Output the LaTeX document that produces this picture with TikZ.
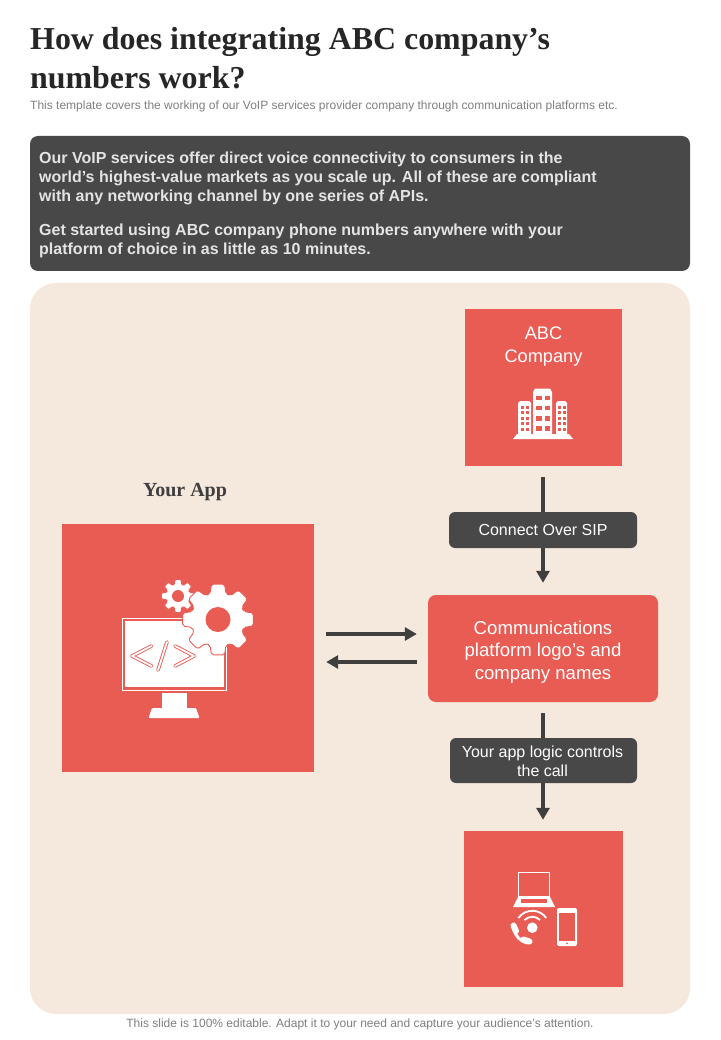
\documentclass[tikz,border=0pt]{standalone}
\usepackage{fontspec}
\setmainfont{Liberation Sans}
\newfontfamily\serifbf[BoldFont={Liberation Serif Bold}]{Liberation Serif}
\usetikzlibrary{arrows.meta}
\definecolor{redbox}{HTML}{E95C54}
\definecolor{panelc}{HTML}{F5E8DD}
\definecolor{darkc}{HTML}{484848}
\definecolor{arrowc}{HTML}{3F3F3F}
\definecolor{titlec}{HTML}{262626}
\definecolor{subc}{HTML}{7F7F7F}
\definecolor{bodyc}{HTML}{E4E4E4}
\tikzset{
  redsq/.style={fill=redbox,inner sep=0pt,draw=none},
  redrnd/.style={fill=redbox,inner sep=0pt,rounded corners=8pt,draw=none},
  pill/.style={fill=darkc,inner sep=0pt,rounded corners=6pt,text=white,align=center,font=\fontsize{16}{19}\selectfont},
  conn/.style={draw=arrowc,line width=3.3pt},
  connarrow/.style={conn,-{Triangle[length=12pt,width=13pt]}},
  wlabel/.style={text=white,align=center,inner sep=0pt},
  ic/.style={fill=white,draw=none},
  icl/.style={draw=white,fill=none},
}
\begin{document}
\begin{tikzpicture}[x=1pt,y=-1pt]
\useasboundingbox[fill=white] (0,0) rectangle (720,1040);

% title block
\node[anchor=base west,inner sep=0pt,text=titlec,align=left,font=\fontsize{31.9}{39}\selectfont\serifbf\bfseries] (title) at (30,89)
  {How does integrating ABC company’s\\numbers work?};
\node[anchor=base west,inner sep=0pt,text=subc,font=\fontsize{12}{14}\selectfont] (subtitle) at (30,110)
  {This template covers the working of our VoIP services provider company through communication platforms etc.};

% dark intro
\path[fill=darkc,rounded corners=8pt] (30,136) rectangle (690,271);
\node[anchor=base west,inner sep=0pt,text=bodyc,align=left,font=\fontsize{16}{19.2}\selectfont\bfseries] (introa) at (39,201.5)
  {Our VoIP services offer direct voice connectivity to consumers in the\\
   world's highest-value markets as you scale up. All of these are compliant\\
   with any networking channel by one series of APIs.};
\node[anchor=base west,inner sep=0pt,text=bodyc,align=left,font=\fontsize{16}{19.2}\selectfont\bfseries] (introb) at (39,254.5)
  {Get started using ABC company phone numbers anywhere with your\\
   platform of choice in as little as 10 minutes.};

% panel
\path[fill=panelc,rounded corners=26pt] (30,283) rectangle (690,1014);

% boxes
\node[redsq,minimum width=157pt,minimum height=157pt] (abc) at (543.5,387.5) {};
\node[wlabel,font=\fontsize{18.2}{23}\selectfont] (abclabel) at (543.5,346.5) {ABC\\Company};
\node[redsq,minimum width=252pt,minimum height=248pt] (app) at (188,648) {};
\node[anchor=base,inner sep=0pt,text=arrowc,font=\fontsize{20}{24}\selectfont\serifbf\bfseries] (applabel) at (185,496) {Your App};
\node[pill,minimum width=188pt,minimum height=36pt] (sip) at (543,530) {\raisebox{-1pt}{Connect Over SIP}};
\node[redrnd,minimum width=230pt,minimum height=107pt] (comm) at (543,648.5) {};
\node[wlabel,font=\fontsize{18.6}{22.7}\selectfont] (commlabel) at (543,652)
  {Communications\\platform logo’s and\\company names};
\node[pill,minimum width=187pt,minimum height=45pt] (logic) at (543.5,760.5) {};
\node[wlabel,font=\fontsize{16}{19}\selectfont] (logiclabel) at (542.5,761) {Your app logic controls\\the call};
\node[redsq,minimum width=159pt,minimum height=156pt] (dev) at (543.5,909) {};

% connectors
\draw[conn,shorten <=11pt] (abc.south -| sip.north) -- (sip.north);
\draw[connarrow,shorten >=12pt] (sip.south) -- (sip.south |- comm.north);
\draw[conn,shorten <=11pt] (comm.south) -- (comm.south |- logic.north);
\draw[connarrow,shorten >=11pt] (logic.south -| comm.south) -- (comm.south |- dev.north);
\draw[connarrow,shorten <=12pt,shorten >=11pt] ([yshift=14pt]app.east) -- ([yshift=14pt]app.east -| comm.west);
\draw[connarrow,shorten <=11pt,shorten >=12pt] ([yshift=-14pt]app.east -| comm.west) -- ([yshift=-14pt]app.east);

% building icon
\path[ic] (533,392) -- (535,388.5) -- (550,388.5) -- (552,392) -- (552,435) -- (533,435) -- cycle;
\path[ic] (518,403) -- (520,401) -- (529,401) -- (531,403) -- (531,435) -- (518,435) -- cycle;
\path[ic] (556,403) -- (558,401) -- (565,401) -- (567,403) -- (567,435) -- (556,435) -- cycle;
\path[ic] (513,439) -- (573,439) -- (569,434) -- (517,434) -- cycle;
\foreach \yy in {395.5,405.5,416,426}{
  \path[fill=redbox] (536,\yy) rectangle ++(5.5,4.6);
  \path[fill=redbox] (544.5,\yy) rectangle ++(5.5,4.6);
}
\foreach \yy in {405.5,411,416.5,422,427.5}{
  \path[fill=redbox] (520.5,\yy) rectangle ++(3.2,3);
  \path[fill=redbox] (525.6,\yy) rectangle ++(3.2,3);
  \path[fill=redbox] (558.3,\yy) rectangle ++(3,3);
  \path[fill=redbox] (562.6,\yy) rectangle ++(3,3);
}

% monitor icon
\path[icl,line width=1.3pt] (122.5,618.5) rectangle (226.5,690.5);
\path[ic] (125,621) rectangle (224,687);
\path[ic] (161.5,693) rectangle (187,708);
\path[ic,rounded corners=1pt] (148.5,718) -- (152,708) -- (196,708) -- (199.5,718) -- cycle;
\foreach \wid/\col in {3.6/redbox,1.8/white}{
  \draw[\col,line width=\wid pt,line cap=round,line join=round] (151.5,646) -- (132,656) -- (151.5,666);
  \draw[\col,line width=\wid pt,line cap=round] (167,642) -- (158,670);
  \draw[\col,line width=\wid pt,line cap=round,line join=round] (175,646) -- (194,656) -- (175,666);
}
% gears
\foreach \cx/\cy/\ro/\rr/\rh/\cr in {178/596/16.8/12/6/1,218/619.5/36/27/12.5/2}{
  \begin{scope}[shift={(\cx,\cy)}]
    \path[fill=white,draw=redbox,line width=0.9pt,line join=round,rounded corners=\cr pt]
      (-17:\rr)
      \foreach \t in {0,45,...,315}{
        -- (\t-17:\rr) -- (\t-10.5:\ro) -- (\t+10.5:\ro) -- (\t+17:\rr)
      } -- cycle;
    \path[fill=redbox] (0,0) circle[radius=\rh];
  \end{scope}
}

% devices icon
\path[icl,line width=1.3pt] (518.6,872.6) rectangle (549.4,897);
\path[ic] (518,897) -- (550,897) -- (555,907) -- (513,907) -- cycle;
\path[fill=redbox] (521,899) rectangle (547,903);
\path[ic,rounded corners=2pt] (557,908) rectangle (577,946);
\path[fill=redbox] (559.3,913) rectangle (575,940.5);
\path[fill=redbox] (567,943.3) circle[radius=1];
\path[ic] (532.3,927.7) circle[radius=5.3];
\draw[white,line width=1.8pt] (524.5,920) arc[start angle=225,end angle=315,radius=11];
\draw[white,line width=1.8pt] (518.4,918) arc[start angle=215,end angle=325,radius=17];
\draw[white,line width=3pt,line cap=round] (513.5,928) .. controls (515,936) and (520,941) .. (527,943);
\draw[white,line width=6pt,line cap=round] (513.5,925.5) -- (516,931);
\draw[white,line width=6pt,line cap=round] (523.5,939.5) -- (529.5,941.5);

% footer
\node[anchor=base,inner sep=0pt,text=subc,font=\fontsize{12}{14}\selectfont] (footer) at (360,1027)
  {This slide is 100\% editable. Adapt it to your need and capture your audience’s attention.};
\end{tikzpicture}
\end{document}
